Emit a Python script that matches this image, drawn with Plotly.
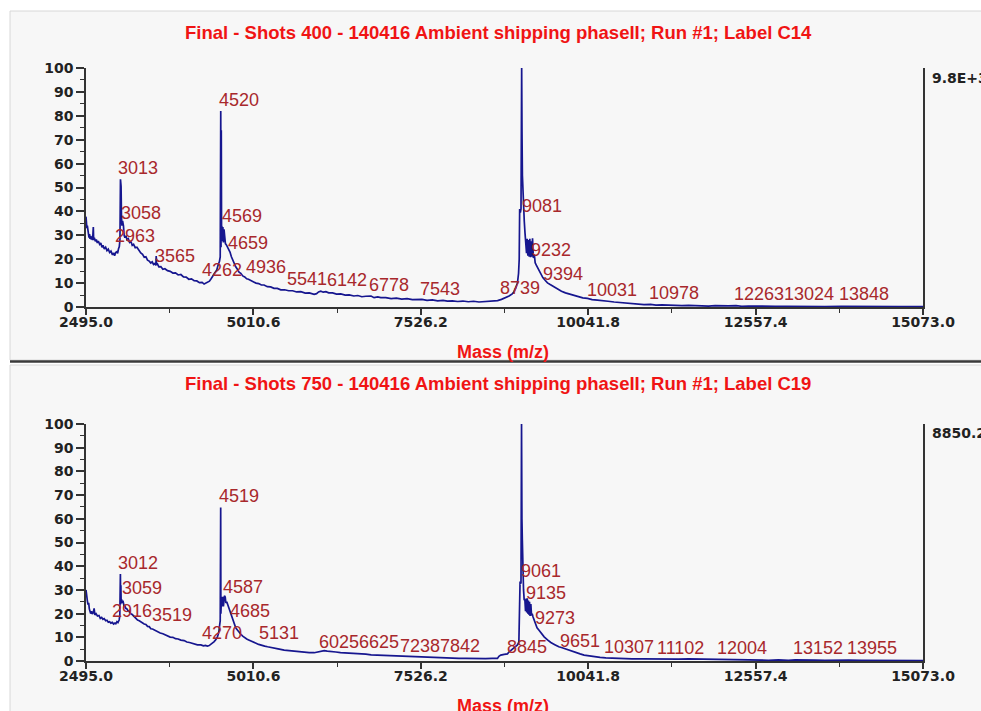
import plotly.graph_objects as go

# ---------------- data ----------------
x_min, x_max = 2495.0, 15073.0
x_ticks = [2495.0, 5010.6, 7526.2, 10041.8, 12557.4, 15073.0]
y_ticks = [0, 10, 20, 30, 40, 50, 60, 70, 80, 90, 100]

title_top = "Final - Shots 400 - 140416 Ambient shipping phaseII; Run #1; Label C14"
title_bot = "Final - Shots 750 - 140416 Ambient shipping phaseII; Run #1; Label C19"
x_title = "Mass (m/z)"
scale_top = "9.8E+3"
scale_bot = "8850.2"

top_spectrum = [
    (2495, 37.8), (2500, 35.5), (2508, 33.0), (2515, 34.0), (2525, 30.5), (2533, 31.5), (2540, 29.0),
    (2548, 30.5), (2555, 28.5), (2565, 29.8), (2575, 28.2), (2585, 29.5), (2595, 28.0), (2600, 31.0),
    (2605, 33.5), (2610, 28.0), (2620, 29.0), (2635, 27.5), (2650, 28.3), (2665, 26.8), (2680, 27.6),
    (2700, 26.2), (2717, 26.8), (2735, 25.0), (2750, 25.8), (2770, 24.3), (2790, 25.0), (2810, 23.6),
    (2830, 24.2), (2850, 22.8), (2870, 23.4), (2893, 21.8), (2910, 22.6), (2925, 21.5), (2940, 22.8),
    (2958, 23.1), (2970, 22.5), (2985, 24.5), (2995, 25.2), (3005, 28.0), (3010, 45.0), (3013, 53.4),
    (3016, 52.0), (3019, 38.0), (3022, 50.5), (3028, 37.8), (3035, 34.0), (3045, 36.0), (3058, 34.0),
    (3068, 30.0), (3080, 29.0), (3095, 29.8), (3110, 28.2), (3130, 28.6), (3150, 27.0), (3170, 27.4),
    (3190, 25.8), (3210, 26.2), (3235, 24.8), (3260, 25.0), (3290, 23.5), (3318, 22.6), (3345, 22.0),
    (3370, 20.8), (3395, 21.0), (3420, 19.6), (3445, 19.2), (3469, 18.4), (3490, 18.9), (3510, 17.8),
    (3530, 18.2), (3545, 17.4), (3550, 21.3), (3556, 17.6), (3565, 18.2), (3590, 16.8), (3620, 16.9),
    (3650, 15.8), (3680, 16.0), (3720, 15.2), (3760, 14.9), (3800, 14.2), (3840, 14.3), (3880, 13.4),
    (3920, 13.6), (3960, 12.6), (4000, 12.5), (4040, 11.6), (4080, 11.8), (4120, 11.0), (4160, 10.9),
    (4200, 10.2), (4240, 10.3), (4270, 9.6), (4300, 10.0), (4330, 10.4), (4350, 10.8), (4375, 11.8),
    (4400, 12.8), (4430, 14.0), (4460, 15.5), (4480, 17.6), (4500, 19.0), (4512, 21.0), (4520, 82.0),
    (4524, 25.0), (4528, 74.0), (4532, 34.0), (4538, 33.5), (4545, 27.5), (4552, 33.5), (4560, 27.0),
    (4569, 32.5), (4578, 27.0), (4590, 26.5), (4605, 26.0), (4621, 25.0), (4640, 24.5), (4659, 23.0),
    (4680, 21.0), (4700, 19.6), (4721, 18.3), (4745, 16.8), (4770, 15.8), (4795, 14.6), (4821, 14.1),
    (4850, 13.0), (4880, 12.6), (4910, 11.8), (4936, 11.6), (4971, 11.0), (5010, 10.6), (5050, 10.0),
    (5090, 9.8), (5130, 9.2), (5171, 9.2), (5220, 8.5), (5270, 8.4), (5320, 7.8), (5370, 7.8),
    (5422, 7.2), (5480, 7.2), (5541, 6.8), (5600, 6.8), (5660, 6.3), (5723, 6.4), (5790, 5.8),
    (5850, 5.9), (5923, 5.3), (5960, 5.6), (5990, 6.3), (6023, 6.6), (6060, 6.2), (6100, 6.4),
    (6142, 5.9), (6200, 5.9), (6260, 5.4), (6324, 5.5), (6390, 5.0), (6450, 5.1), (6520, 4.6),
    (6580, 4.8), (6640, 4.3), (6700, 4.5), (6778, 4.6), (6824, 3.9), (6880, 4.2), (6925, 3.9),
    (7000, 3.9), (7080, 3.5), (7160, 3.7), (7240, 3.3), (7320, 3.5), (7400, 3.1), (7470, 3.3),
    (7543, 3.2), (7620, 2.8), (7700, 3.0), (7780, 2.6), (7860, 2.8), (7927, 2.5), (8000, 2.6),
    (8080, 2.3), (8160, 2.5), (8240, 2.2), (8320, 2.4), (8400, 2.1), (8480, 2.3), (8560, 2.3),
    (8620, 2.5), (8680, 2.7), (8739, 3.2), (8790, 3.8), (8853, 4.6), (8900, 5.5), (8928, 6.4),
    (8955, 8.0), (8978, 9.9), (8995, 14.0), (9005, 20.0), (9012, 41.0), (9022, 39.5), (9032, 41.0),
    (9042, 100.0), (9047, 73.4), (9053, 55.0), (9060, 48.0), (9069, 40.0), (9081, 36.0), (9092, 31.0),
    (9104, 28.0), (9115, 22.5), (9125, 28.5), (9135, 21.5), (9145, 28.0), (9155, 21.0), (9165, 28.5),
    (9175, 20.8), (9185, 27.5), (9195, 21.0), (9205, 28.8), (9218, 20.5), (9232, 22.0), (9245, 18.5),
    (9262, 17.5), (9279, 16.6), (9300, 15.2), (9330, 13.6), (9360, 12.3), (9394, 11.2), (9430, 10.1),
    (9470, 9.4), (9529, 8.3), (9580, 7.4), (9640, 6.6), (9700, 5.9), (9760, 5.4), (9830, 4.7),
    (9900, 4.4), (9960, 3.8), (10031, 3.6), (10100, 3.1), (10180, 2.9), (10260, 2.5), (10340, 2.4),
    (10431, 2.1), (10520, 1.9), (10600, 1.7), (10680, 1.5), (10732, 1.3), (10800, 1.2), (10880, 1.0),
    (10978, 1.1), (11060, 0.8), (11150, 0.9), (11250, 0.7), (11350, 0.8), (11450, 0.6), (11550, 0.7),
    (11650, 0.5), (11750, 0.6), (11850, 0.4), (11950, 0.6), (12050, 0.4), (12150, 0.5), (12263, 0.6),
    (12350, 0.3), (12450, 0.4), (12550, 0.3), (12700, 0.3), (12850, 0.3), (13024, 0.3), (13200, 0.2),
    (13400, 0.3), (13600, 0.2), (13848, 0.3), (14100, 0.2), (14400, 0.2), (14700, 0.2), (15073, 0.2),
]

bot_spectrum = [
    (2495, 30.0), (2500, 27.5), (2508, 26.0), (2515, 25.5), (2525, 23.8), (2535, 24.5), (2545, 22.0),
    (2555, 21.2), (2565, 20.0), (2578, 21.0), (2590, 19.8), (2605, 20.5), (2617, 22.2), (2628, 19.5),
    (2645, 20.0), (2667, 19.0), (2690, 19.2), (2710, 18.0), (2730, 18.4), (2750, 17.6), (2768, 17.9),
    (2790, 17.0), (2810, 17.2), (2830, 16.4), (2850, 16.6), (2868, 16.0), (2890, 16.3), (2910, 15.6),
    (2930, 16.0), (2943, 15.7), (2960, 16.6), (2975, 16.2), (2993, 17.3), (3003, 19.0), (3008, 25.0),
    (3012, 36.7), (3016, 24.0), (3019, 32.0), (3023, 25.0), (3030, 26.0), (3040, 24.5), (3050, 25.5),
    (3059, 24.0), (3068, 23.0), (3080, 23.2), (3093, 22.2), (3110, 22.0), (3130, 21.0), (3150, 20.8),
    (3170, 19.9), (3190, 19.6), (3219, 18.7), (3245, 18.2), (3270, 17.3), (3295, 17.0), (3320, 16.4),
    (3345, 16.2), (3369, 15.6), (3395, 15.4), (3420, 14.6), (3445, 14.5), (3470, 13.6), (3495, 13.5),
    (3519, 13.1), (3545, 12.6), (3575, 12.4), (3610, 11.8), (3650, 11.5), (3685, 11.0), (3720, 10.8),
    (3760, 10.1), (3800, 10.0), (3840, 9.4), (3880, 9.3), (3920, 8.8), (3970, 8.6), (4010, 8.0),
    (4050, 7.8), (4090, 7.4), (4130, 7.3), (4170, 6.8), (4221, 6.8), (4260, 6.4), (4290, 6.6),
    (4320, 6.3), (4346, 6.5), (4380, 7.2), (4421, 8.2), (4450, 9.2), (4471, 10.3), (4490, 12.0),
    (4507, 16.6), (4512, 17.0), (4519, 64.8), (4522, 20.0), (4526, 53.6), (4531, 27.0), (4540, 23.0),
    (4547, 27.1), (4560, 23.0), (4575, 27.5), (4587, 27.0), (4597, 24.5), (4610, 25.0), (4622, 24.0),
    (4645, 21.8), (4665, 20.0), (4685, 18.7), (4705, 16.8), (4722, 15.5), (4745, 14.0), (4770, 13.1),
    (4795, 12.0), (4822, 11.3), (4850, 10.5), (4880, 9.8), (4910, 9.3), (4940, 8.9), (4972, 8.4),
    (5010, 7.9), (5050, 7.5), (5090, 7.0), (5131, 6.8), (5180, 6.3), (5223, 6.0), (5280, 5.6),
    (5340, 5.4), (5400, 5.0), (5473, 4.6), (5540, 4.4), (5600, 4.0), (5660, 3.9), (5724, 3.7),
    (5790, 3.6), (5850, 3.5), (5924, 3.5), (5980, 3.8), (6025, 4.3), (6075, 4.4), (6120, 4.2),
    (6175, 3.9), (6250, 3.8), (6320, 3.5), (6400, 3.4), (6480, 3.2), (6560, 3.2), (6625, 3.0),
    (6700, 2.9), (6780, 2.6), (6860, 2.5), (6940, 2.4), (7020, 2.3), (7100, 2.2), (7176, 2.1),
    (7238, 2.1), (7320, 1.8), (7400, 1.8), (7480, 1.6), (7560, 1.6), (7640, 1.5), (7720, 1.4),
    (7800, 1.4), (7842, 1.3), (7920, 1.2), (8000, 1.2), (8100, 1.1), (8200, 1.1), (8300, 1.0),
    (8400, 1.1), (8500, 1.0), (8600, 1.1), (8678, 1.1), (8700, 2.0), (8728, 2.5), (8780, 2.8),
    (8828, 3.0), (8845, 3.6), (8870, 4.2), (8904, 5.3), (8940, 6.0), (8979, 6.8), (9000, 8.0),
    (9010, 20.0), (9018, 33.5), (9025, 32.8), (9032, 33.0), (9040, 100.0), (9046, 60.0), (9052, 51.0),
    (9057, 40.0), (9061, 33.5), (9070, 30.0), (9080, 25.7), (9090, 26.0), (9100, 21.0), (9110, 26.4),
    (9118, 20.5), (9126, 26.5), (9135, 20.0), (9143, 25.5), (9150, 19.5), (9160, 25.0), (9168, 19.0),
    (9180, 24.0), (9190, 19.2), (9200, 20.0), (9212, 18.7), (9229, 17.3), (9250, 15.2), (9273, 14.0),
    (9300, 13.1), (9340, 11.5), (9380, 10.2), (9430, 8.9), (9480, 7.8), (9540, 6.9), (9600, 6.0),
    (9651, 5.6), (9680, 5.3), (9740, 4.6), (9800, 4.0), (9870, 3.4), (9920, 3.0), (9980, 2.5),
    (10060, 2.1), (10140, 1.8), (10220, 1.5), (10307, 1.3), (10431, 1.1), (10550, 1.0), (10700, 0.9),
    (10850, 0.9), (11000, 0.8), (11102, 0.9), (11250, 0.8), (11400, 0.8), (11550, 0.9), (11700, 0.8),
    (11850, 0.8), (12004, 0.8), (12150, 0.7), (12300, 0.6), (12450, 0.5), (12600, 0.4), (12750, 0.3),
    (12900, 0.5), (13050, 0.3), (13152, 0.5), (13300, 0.3), (13450, 0.4), (13600, 0.3), (13750, 0.4),
    (13955, 0.4), (14150, 0.3), (14400, 0.2), (14700, 0.2), (15073, 0.2),
]

top_peaks = [2963, 3013, 3058, 3565, 4262, 4520, 4569, 4659, 4936, 5541, 6142, 6778, 7543, 8739,
             9042, 9081, 9232, 9394, 10031, 10978, 12263, 13024, 13848]
bot_peaks = [2916, 3012, 3059, 3519, 4270, 4519, 4587, 4685, 5131, 6025, 6625, 7238, 7842, 8845,
             9040, 9061, 9135, 9273, 9651, 10307, 11102, 12004, 13152, 13955]

# ---------------- layout (label heights in axis units, horizontal nudges in px) ----------------
top_label_y = [29.7, 58.2, 39.2, 21.4, 15.4, 86.7, 38.2, 26.6, 16.8, 11.6, 11.3, 9.1, 7.7, 8.1,
               104.2, 42.2, 23.8, 13.7, 7.3, 5.9, 5.3, 5.3, 5.3]
top_label_dx = [0, 0, 0, 0, 0, 0, 0, 0, 0, 0, 0, 0, 0, 0, 0, 0, -1, 0, 2, 0, 0, -1, 0]
bot_label_y = [21.2, 41.2, 30.7, 19.4, 12.0, 69.6, 31.4, 21.2, 12.0, 8.0, 8.0, 6.3, 6.3, 6.0,
               104.2, 38.1, 28.6, 18.0, 8.6, 6.0, 5.4, 5.4, 5.4, 5.4]
bot_label_dx = [0] * len(bot_peaks)

W, H = 981, 711
def px(x):
    return x / W
def py(y):
    return 1 - y / H

LINE_COLOR = "#16168f"
LABEL_COLOR = "#a8282c"
TITLE_COLOR = "#f01414"
AXIS_COLOR = "#333333"
TICK_FONT = dict(family="DejaVu Sans", size=14, color="#222222", weight="bold")

fig = go.Figure()
for spec, xa, ya in [(top_spectrum, "x", "y"), (bot_spectrum, "x2", "y2")]:
    fig.add_trace(go.Scatter(
        x=[m for m, _ in spec], y=[v for _, v in spec], mode="lines",
        line=dict(color=LINE_COLOR, width=1.7), xaxis=xa, yaxis=ya,
        showlegend=False, hoverinfo="skip"))

xdom = [px(86), px(923)]
def xaxis_cfg(anchor):
    return dict(domain=xdom, anchor=anchor, range=[x_min, x_max],
                tickmode="array", tickvals=x_ticks, ticktext=[f"{t:.1f}" for t in x_ticks],
                ticks="outside", ticklen=6, tickwidth=1.5, tickcolor=AXIS_COLOR,
                ticklabelstandoff=-5,
                minor=dict(tickmode="array",
                           tickvals=[(a + b) / 2 for a, b in zip(x_ticks[:-1], x_ticks[1:])],
                           ticks="outside", ticklen=4, tickwidth=1.3, tickcolor=AXIS_COLOR),
                showline=True, linecolor=AXIS_COLOR, linewidth=1.5,
                showgrid=False, zeroline=False, tickfont=TICK_FONT, fixedrange=True)

def yaxis_cfg(anchor, dom):
    return dict(domain=dom, anchor=anchor, range=[0, 100],
                tickmode="array", tickvals=y_ticks,
                ticks="outside", ticklen=8, tickwidth=1.5, tickcolor=AXIS_COLOR,
                minor=dict(tickmode="array", tickvals=[t + 5 for t in y_ticks[:-1]],
                           ticks="outside", ticklen=4, tickwidth=1.3, tickcolor=AXIS_COLOR),
                showline=True, linecolor=AXIS_COLOR, linewidth=1.5, mirror=True,
                showgrid=False, zeroline=False, tickfont=TICK_FONT, fixedrange=True)

annotations = []
for peaks, ys, dxs, xr, yr in [(top_peaks, top_label_y, top_label_dx, "x", "y"),
                               (bot_peaks, bot_label_y, bot_label_dx, "x2", "y2")]:
    for m, yv, dx in zip(peaks, ys, dxs):
        annotations.append(dict(x=m, y=yv, xref=xr, yref=yr, text=str(m), showarrow=False,
                                xanchor="left", yanchor="middle", xshift=-3 + dx, borderpad=0,
                                font=dict(family="Liberation Sans", size=18, color=LABEL_COLOR)))

for t, yc in [(title_top, 32), (title_bot, 384)]:
    annotations.append(dict(x=px(498), y=py(yc), xref="paper", yref="paper", text=t,
                            showarrow=False, xanchor="center", yanchor="middle",
                            font=dict(family="Liberation Sans", size=18.5, color=TITLE_COLOR, weight="bold")))
for yc in [352, 706]:
    annotations.append(dict(x=px(503), y=py(yc), xref="paper", yref="paper", text=x_title,
                            showarrow=False, xanchor="center", yanchor="middle",
                            font=dict(family="Liberation Sans", size=18, color=TITLE_COLOR, weight="bold")))
for t, yc in [(scale_top, 78), (scale_bot, 433)]:
    annotations.append(dict(x=px(930), y=py(yc), xref="paper", yref="paper", text=t,
                            showarrow=False, xanchor="left", yanchor="middle",
                            font=TICK_FONT))

shapes = [
    dict(type="rect", xref="paper", yref="paper", x0=px(10), x1=px(985), y0=py(360), y1=py(11),
         fillcolor="#f7f7f7", line=dict(color="#d8d8d8", width=1), layer="below"),
    dict(type="rect", xref="paper", yref="paper", x0=px(10), x1=px(985), y0=py(715), y1=py(365),
         fillcolor="#f7f7f7", line=dict(color="#d8d8d8", width=1), layer="below"),
    dict(type="line", xref="paper", yref="paper", x0=px(10), x1=px(985), y0=py(361.5), y1=py(361.5),
         line=dict(color="#3a3a3a", width=2.5)),
]

fig.update_layout(
    width=W, height=H, margin=dict(l=0, r=0, t=0, b=0, pad=0, autoexpand=False),
    paper_bgcolor="white", plot_bgcolor="rgba(0,0,0,0)",
    xaxis=xaxis_cfg("y"), yaxis=yaxis_cfg("x", [py(307), py(68)]),
    xaxis2=xaxis_cfg("y2"), yaxis2=yaxis_cfg("x2", [py(661), py(424)]),
    annotations=annotations, shapes=shapes, showlegend=False,
)

fig.write_html("out.html", config={"displayModeBar": False},
               post_script="document.body.style.margin='0';document.body.style.overflow='hidden';")
